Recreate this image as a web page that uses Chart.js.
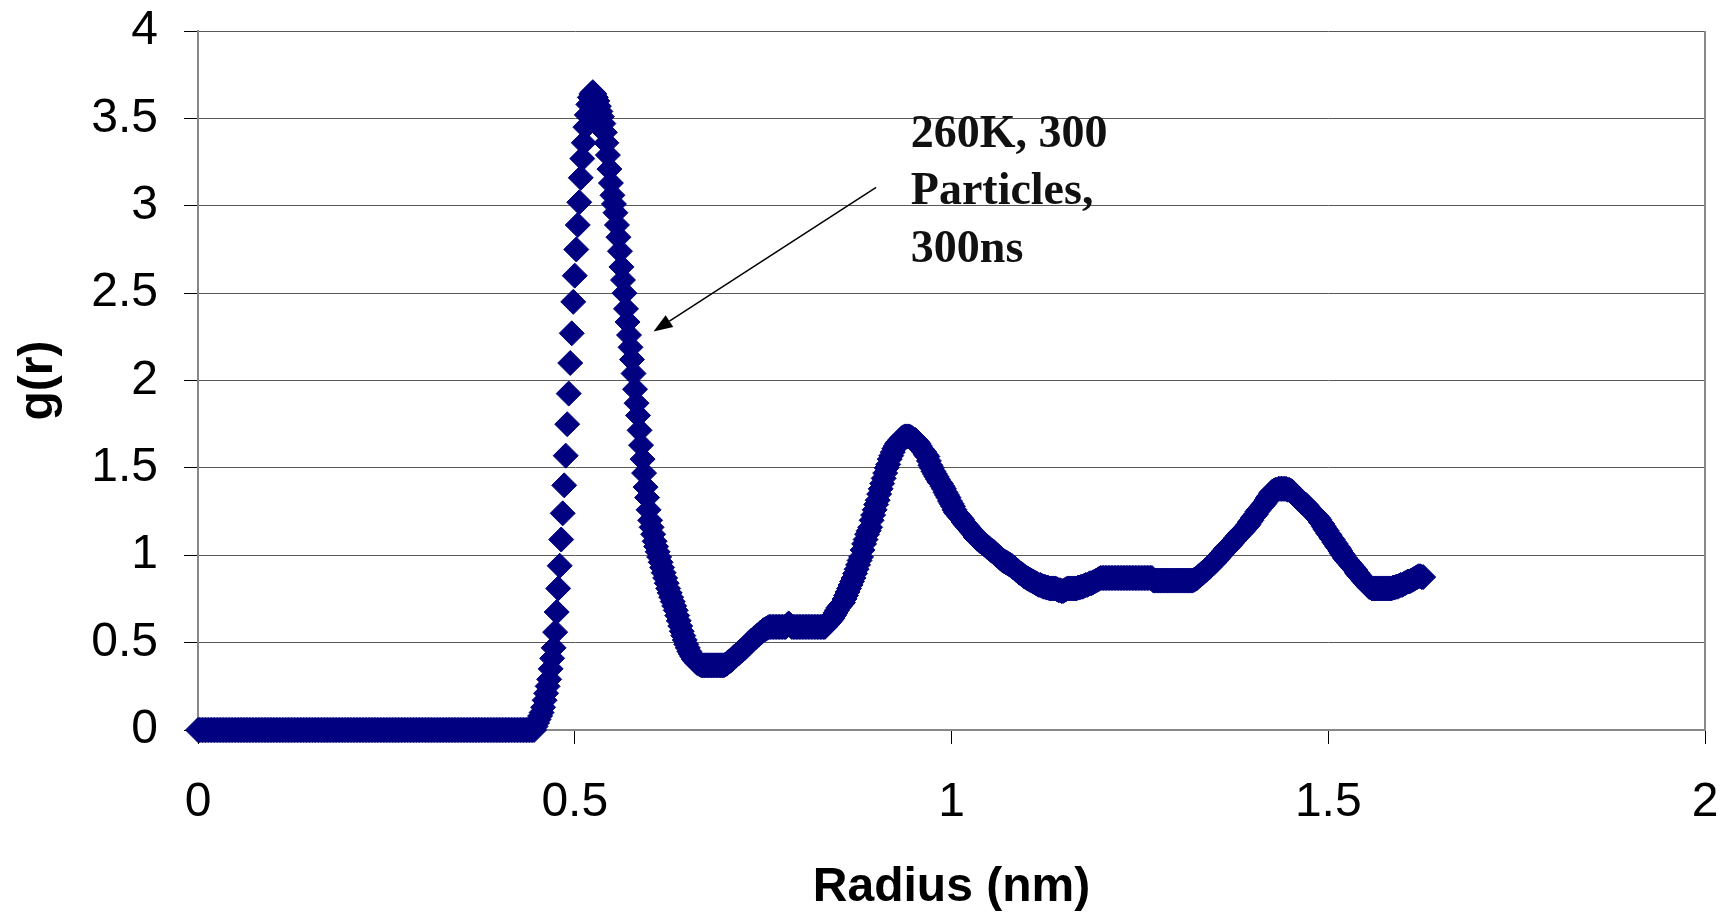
<!DOCTYPE html>
<html>
<head>
<meta charset="utf-8">
<script src="https://cdn.jsdelivr.net/npm/chart.js@4.4.1/dist/chart.umd.min.js"></script>
<style>
  html, body { margin: 0; padding: 0; background: #ffffff; }
  #wrap { position: relative; width: 1725px; height: 917px; }
</style>
</head>
<body>
<div id="wrap"><canvas id="c" width="1725" height="917"></canvas></div>
<script>
// ---- data ----
// radial distribution g(r), sampled every R_STEP nm starting at r = 0
const R_STEP = 0.002;
const gValues = [
  0,0,0,0,0,0,0,0,0,0,  0,0,0,0,0,0,0,0,0,0,
  0,0,0,0,0,0,0,0,0,0,  0,0,0,0,0,0,0,0,0,0,
  0,0,0,0,0,0,0,0,0,0,  0,0,0,0,0,0,0,0,0,0,
  0,0,0,0,0,0,0,0,0,0,  0,0,0,0,0,0,0,0,0,0,
  0,0,0,0,0,0,0,0,0,0,  0,0,0,0,0,0,0,0,0,0,
  0,0,0,0,0,0,0,0,0,0,  0,0,0,0,0,0,0,0,0,0,
  0,0,0,0,0,0,0,0,0,0,  0,0,0,0,0,0,0,0,0,0,
  0,0,0,0,0,0,0,0,0,0,  0,0,0,0,0,0,0,0,0,0,
  0,0,0,0,0,0,0,0,0,0,  0,0,0,0,0,0,0,0,0,0,
  0,0,0,0,0,0,0,0,0,0,  0,0,0,0,0,0,0,0,0,0,
  0,0,0,0,0,0,0,0,0,0,  0,0,0,0,0,0,0,0,0,0,
  0,0,0,0,0.02,0.04,0.06,0.08,0.10,0.13,
  0.17,0.21,0.25,0.29,0.35,0.41,0.47,0.56,0.675,0.81,
  0.94,1.09,1.24,1.40,1.57,1.75,1.925,2.10,2.27,2.45,
  2.60,2.75,2.89,3.02,3.16,3.27,3.36,3.45,3.52,3.58,
  3.62,3.64,3.65,3.64,3.62,3.60,3.57,3.54,3.51,3.47,
  3.42,3.36,3.29,3.21,3.13,3.06,3.01,2.96,2.89,2.82,
  2.74,2.65,2.575,2.50,2.41,2.335,2.26,2.19,2.12,2.04,
  1.95,1.87,1.80,1.715,1.63,1.55,1.47,1.39,1.33,1.26,
  1.20,1.16,1.12,1.08,1.05,1.02,0.99,0.96,0.93,0.90,
  0.87,0.84,0.81,0.785,0.76,0.735,0.71,0.685,0.655,0.625,
  0.595,0.565,0.54,0.515,0.49,0.47,0.45,0.435,0.42,0.405,
  0.395,0.385,0.38,0.375,0.37,0.37,0.37,0.37,0.37,0.37,
  0.37,0.37,0.37,0.37,0.37,0.37,0.37,0.37,0.37,0.37,
  0.375,0.38,0.39,0.395,0.40,0.41,0.42,0.425,0.435,0.44,
  0.45,0.455,0.465,0.47,0.48,0.49,0.50,0.51,0.515,0.525,
  0.53,0.54,0.545,0.555,0.56,0.57,0.575,0.58,0.585,0.59,
  0.59,0.59,0.59,0.59,0.59,0.59,0.59,0.59,0.59,0.59,
  0.59,0.60,0.61,0.60,0.59,0.59,0.59,0.59,0.59,0.59,
  0.59,0.59,0.59,0.59,0.59,0.59,0.59,0.59,0.59,0.59,
  0.59,0.59,0.59,0.59,0.59,0.59,0.59,0.60,0.61,0.62,
  0.63,0.64,0.655,0.67,0.685,0.70,0.71,0.72,0.73,0.75,
  0.77,0.79,0.81,0.83,0.85,0.87,0.895,0.92,0.945,0.97,
  0.99,1.03,1.065,1.09,1.12,1.14,1.16,1.20,1.23,1.26,
  1.29,1.315,1.35,1.38,1.41,1.44,1.47,1.50,1.52,1.55,
  1.57,1.59,1.61,1.625,1.64,1.65,1.66,1.67,1.675,1.68,
  1.68,1.68,1.68,1.675,1.67,1.66,1.66,1.65,1.64,1.625,
  1.61,1.60,1.59,1.575,1.565,1.54,1.515,1.50,1.48,1.465,
  1.45,1.435,1.42,1.41,1.395,1.38,1.36,1.345,1.33,1.31,
  1.295,1.28,1.26,1.245,1.235,1.225,1.215,1.205,1.19,1.18,
  1.17,1.16,1.15,1.14,1.13,1.12,1.105,1.095,1.09,1.08,
  1.075,1.07,1.06,1.055,1.045,1.04,1.03,1.025,1.02,1.01,
  1.00,0.995,0.985,0.98,0.97,0.965,0.96,0.955,0.95,0.945,
  0.94,0.93,0.925,0.915,0.91,0.90,0.895,0.89,0.88,0.875,
  0.87,0.865,0.86,0.855,0.85,0.845,0.84,0.835,0.83,0.83,
  0.825,0.82,0.82,0.815,0.815,0.81,0.81,0.81,0.81,0.81,
  0.805,0.80,0.80,0.795,0.795,0.80,0.805,0.81,0.81,0.81,
  0.81,0.81,0.81,0.81,0.815,0.815,0.82,0.82,0.825,0.83,
  0.83,0.835,0.84,0.84,0.845,0.85,0.855,0.86,0.865,0.87,
  0.87,0.87,0.87,0.87,0.87,0.87,0.87,0.87,0.87,0.87,
  0.87,0.87,0.87,0.87,0.87,0.87,0.87,0.87,0.87,0.87,
  0.87,0.87,0.87,0.87,0.87,0.87,0.87,0.87,0.87,0.87,
  0.87,0.87,0.87,0.87,0.855,0.855,0.855,0.855,0.855,0.855,
  0.855,0.855,0.855,0.855,0.855,0.855,0.855,0.855,0.855,0.855,
  0.855,0.855,0.855,0.855,0.855,0.855,0.855,0.855,0.855,0.855,
  0.855,0.86,0.865,0.87,0.88,0.885,0.895,0.90,0.91,0.915,
  0.925,0.93,0.94,0.95,0.955,0.965,0.975,0.985,0.995,1.005,
  1.015,1.025,1.035,1.045,1.05,1.06,1.07,1.08,1.09,1.10,
  1.11,1.12,1.13,1.135,1.145,1.155,1.165,1.175,1.19,1.20,
  1.215,1.225,1.235,1.25,1.26,1.27,1.28,1.29,1.30,1.315,
  1.33,1.34,1.355,1.365,1.37,1.375,1.375,1.38,1.38,1.38,
  1.38,1.38,1.38,1.375,1.375,1.37,1.365,1.355,1.345,1.335,
  1.325,1.32,1.31,1.30,1.295,1.29,1.28,1.27,1.26,1.25,
  1.24,1.235,1.225,1.215,1.205,1.19,1.18,1.165,1.15,1.14,
  1.125,1.115,1.10,1.09,1.075,1.065,1.05,1.04,1.025,1.01,
  1.00,0.985,0.975,0.965,0.955,0.945,0.935,0.925,0.915,0.90,
  0.89,0.88,0.87,0.86,0.85,0.84,0.83,0.82,0.815,0.81,
  0.81,0.81,0.81,0.81,0.81,0.81,0.81,0.81,0.81,0.81,
  0.81,0.81,0.81,0.815,0.815,0.82,0.82,0.825,0.83,0.83,
  0.835,0.84,0.845,0.85,0.85,0.855,0.86,0.865,0.87,0.875,
  0.88,0.88,0.875,0.875
];
const radius = gValues.map((_, i) => Number((i * R_STEP).toFixed(3)));

const xTicks = [0, 0.5, 1, 1.5, 2];
const yTicks = [0, 0.5, 1, 1.5, 2, 2.5, 3, 3.5, 4];
const xTitle = 'Radius (nm)';
const yTitle = 'g(r)';
const noteLines = ['260K, 300', 'Particles,', '300ns'];
// annotation anchors in data units
const noteAnchor = { r: 0.946, g: 3.338 };
const arrowFrom = { r: 0.900, g: 3.105 };
const arrowTo = { r: 0.6045, g: 2.28 };

const points = radius.map((r, i) => ({ x: r, y: gValues[i] }));

const frameAndNote = {
  id: 'frameAndNote',
  afterDatasetsDraw(chart) {
    const ctx = chart.ctx;
    const a = chart.chartArea;
    const xs = chart.scales.x, ys = chart.scales.y;
    ctx.save();
    // right frame line
    ctx.strokeStyle = '#888888';
    ctx.lineWidth = 2;
    ctx.beginPath();
    ctx.moveTo(a.right, a.top);
    ctx.lineTo(a.right, a.bottom);
    ctx.stroke();
    // arrow
    const x1 = xs.getPixelForValue(arrowFrom.r), y1 = ys.getPixelForValue(arrowFrom.g);
    const x2 = xs.getPixelForValue(arrowTo.r), y2 = ys.getPixelForValue(arrowTo.g);
    const ang = Math.atan2(y2 - y1, x2 - x1);
    const headLen = 19, headHalf = 7;
    const bx = x2 - headLen * Math.cos(ang), by = y2 - headLen * Math.sin(ang);
    ctx.strokeStyle = '#000000';
    ctx.lineWidth = 1.5;
    ctx.beginPath();
    ctx.moveTo(x1, y1);
    ctx.lineTo(bx, by);
    ctx.stroke();
    ctx.fillStyle = '#000000';
    ctx.beginPath();
    ctx.moveTo(x2, y2);
    ctx.lineTo(bx + headHalf * Math.sin(ang), by - headHalf * Math.cos(ang));
    ctx.lineTo(bx - headHalf * Math.sin(ang), by + headHalf * Math.cos(ang));
    ctx.closePath();
    ctx.fill();
    // note text
    ctx.fillStyle = '#111111';
    ctx.font = 'bold 46px "Liberation Serif", "DejaVu Serif", serif';
    ctx.textAlign = 'left';
    ctx.textBaseline = 'alphabetic';
    const tx = xs.getPixelForValue(noteAnchor.r);
    const ty = ys.getPixelForValue(noteAnchor.g);
    noteLines.forEach((t, i) => ctx.fillText(t, tx, ty + i * 57.5));
    ctx.restore();
  }
};

new Chart(document.getElementById('c'), {
  type: 'scatter',
  data: {
    datasets: [{
      data: points,
      showLine: false,
      pointStyle: 'rectRot',
      pointRadius: 12.5,
      pointHoverRadius: 12.5,
      backgroundColor: '#000080',
      borderColor: '#000080',
      borderWidth: 1,
      clip: false
    }]
  },
  options: {
    responsive: false,
    animation: false,
    events: [],
    layout: { padding: { left: 0, right: 20, top: 31, bottom: 0 } },
    plugins: { legend: { display: false }, tooltip: { enabled: false } },
    scales: {
      x: {
        type: 'linear',
        min: 0, max: 2,
        afterBuildTicks: (s) => { s.ticks = xTicks.map(v => ({ value: v })); },
        afterFit: (s) => {
          s.height = 187;
          s.paddingLeft = 0; s.paddingRight = 0; s.paddingTop = 0; s.paddingBottom = 0;
        },
        ticks: {
          color: '#000000',
          padding: 30,
          maxRotation: 0,
          font: { family: '"Liberation Sans", Arial, sans-serif', size: 48 },
          callback: (v) => String(v)
        },
        grid: {
          drawOnChartArea: false,
          drawTicks: true,
          tickLength: 14,
          tickColor: '#000000',
          tickWidth: 1
        },
        border: { display: true, color: '#888888', width: 2 },
        title: {
          display: true,
          text: xTitle,
          color: '#000000',
          font: { family: '"Liberation Sans", Arial, sans-serif', size: 48, weight: 'bold' },
          padding: { top: 0, bottom: 0 }
        }
      },
      y: {
        type: 'linear',
        min: 0, max: 4,
        afterBuildTicks: (s) => { s.ticks = yTicks.map(v => ({ value: v })); },
        afterFit: (s) => {
          s.width = 198;
          s.paddingLeft = 0; s.paddingRight = 0; s.paddingTop = 0; s.paddingBottom = 0;
        },
        ticks: {
          color: '#000000',
          padding: 26,
          font: { family: '"Liberation Sans", Arial, sans-serif', size: 48 },
          callback: (v) => String(v)
        },
        grid: {
          color: '#585858',
          lineWidth: 1,
          drawTicks: true,
          tickLength: 14,
          tickColor: '#000000',
          tickWidth: 1
        },
        border: { display: true, color: '#888888', width: 2 },
        title: {
          display: true,
          text: yTitle,
          color: '#000000',
          font: { family: '"Liberation Sans", Arial, sans-serif', size: 48, weight: 'bold' },
          padding: { top: 10, bottom: 0 }
        }
      }
    }
  },
  plugins: [frameAndNote]
});
</script>
</body>
</html>
